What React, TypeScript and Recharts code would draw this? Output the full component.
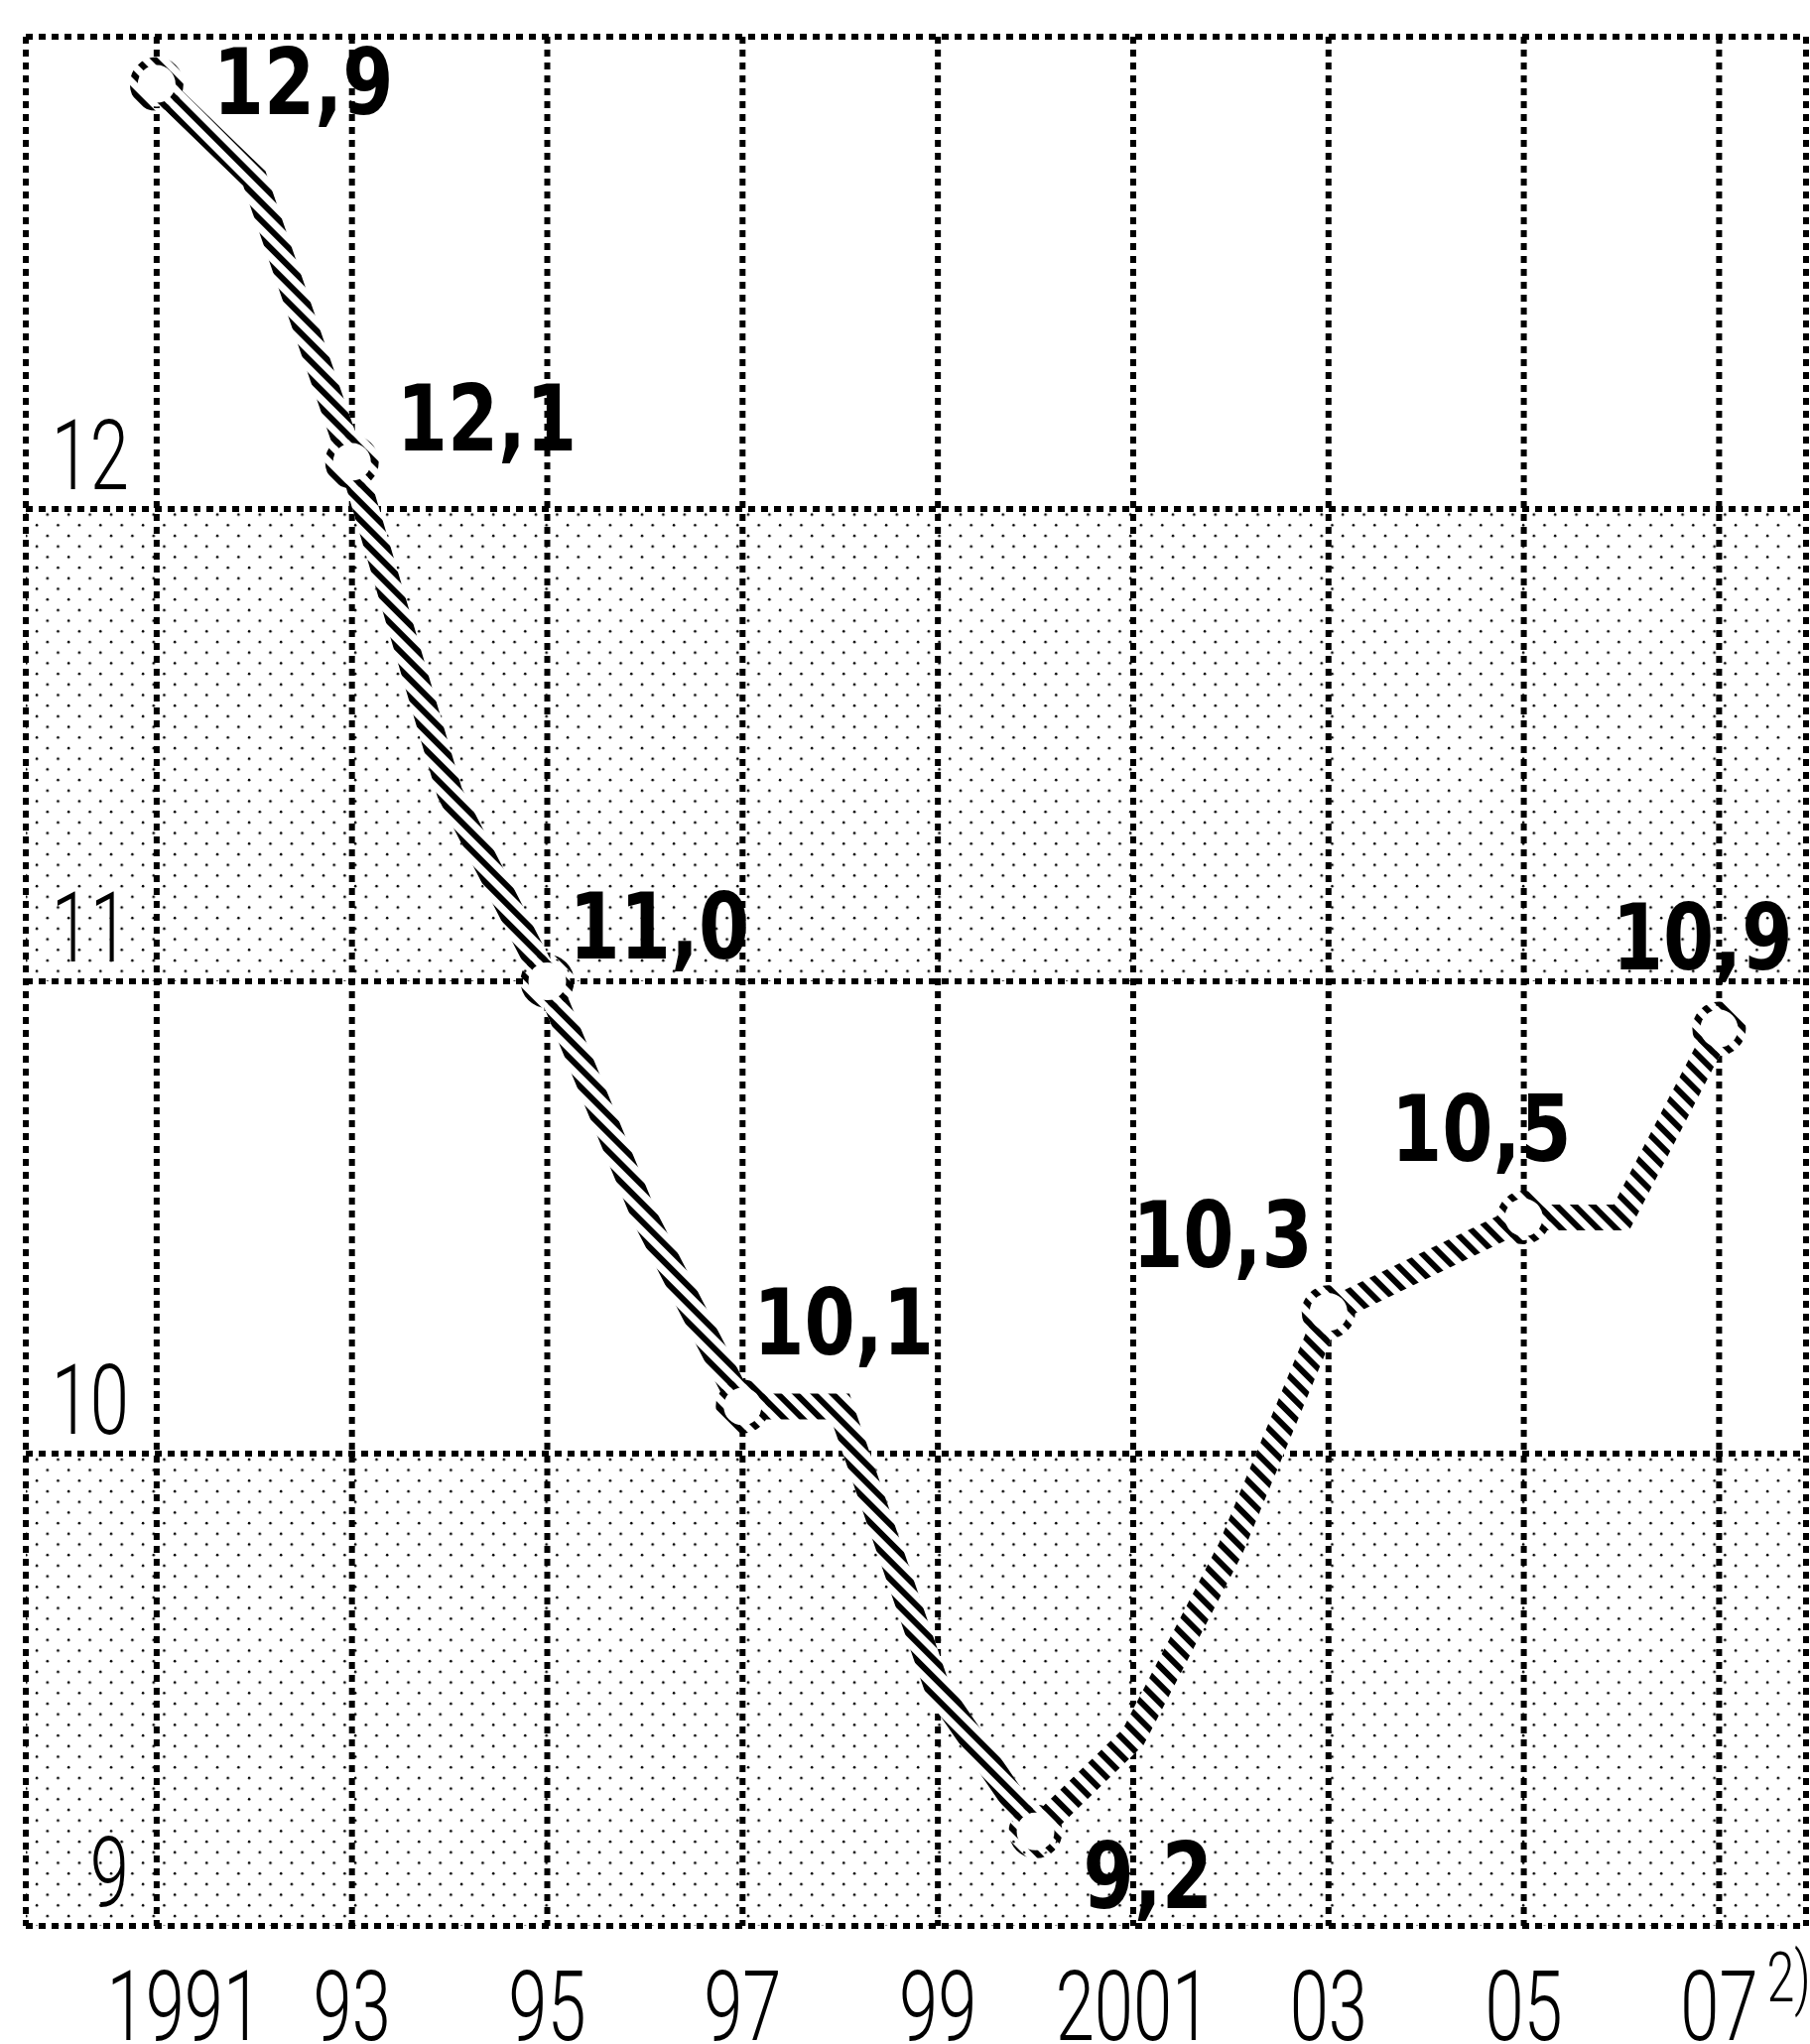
import React from 'react';
import { LineChart, Line, XAxis, YAxis, CartesianGrid, ReferenceArea } from 'recharts';

// ---- data ----
const years = [1991, 1992, 1993, 1994, 1995, 1996, 1997, 1998, 1999, 2000, 2001, 2002, 2003, 2004, 2005, 2006, 2007];
const values = [12.9, 12.7, 12.1, 11.4, 11.0, 10.5, 10.1, 10.1, 9.5, 9.2, 9.4, 9.8, 10.3, 10.4, 10.5, 10.5, 10.9];
const labeledYears = [1991, 1993, 1995, 1997, 2000, 2003, 2005, 2007];
const xTicks = [1991, 1993, 1995, 1997, 1999, 2001, 2003, 2005, 2007];
const xTickLabels = ['1991', '93', '95', '97', '99', '2001', '03', '05', '07'];
const yTicks = [9, 10, 11, 12, 13];
const yTickLabels = ['9', '10', '11', '12', ''];
const shadedBandsLow = [9, 11];
const shadedBandsHigh = [10, 12];

const data = years.map((year, i) => ({ year, value: values[i] }));

// ---- layout / style config ----
const W = 1824;
const H = 2060;
const X_DOMAIN = [1989.66, 2007.89];
const Y_DOMAIN = [9, 13];
const TICK_FONT = 'Roboto, "DejaVu Sans Condensed", sans-serif';
const LABEL_FONT = '"DejaVu Sans Condensed", Roboto, sans-serif';
const TICK_SCALE = 0.72;
const LABEL_SCALE = 0.88;

const LABEL_POS: Record<number, { dx: number; dy: number; anchor: 'start' | 'end' | 'middle' }> = {
  1991: { dx: 57, dy: 30, anchor: 'start' },
  1993: { dx: 45, dy: -11, anchor: 'start' },
  1995: { dx: 22, dy: -23, anchor: 'start' },
  1997: { dx: 11, dy: -52, anchor: 'start' },
  2000: { dx: 48, dy: 77, anchor: 'start' },
  2003: { dx: -16, dy: -45, anchor: 'end' },
  2005: { dx: 48, dy: -57, anchor: 'end' },
  2007: { dx: 74, dy: -60, anchor: 'end' },
};

const fmt = (v: number) => v.toFixed(1).replace('.', ',');

const XTick = (props: any) => {
  const { x, y, payload, index } = props;
  const label = xTickLabels[xTicks.indexOf(payload.value)] ?? '';
  const dx = index === 0 ? 28 : 0;
  const isLast = payload.value === xTicks[xTicks.length - 1];
  return (
    <g>
      <g transform={`translate(${x + dx},${y + 115}) scale(${TICK_SCALE},1)`}>
        <text x={0} y={0} textAnchor="middle" fontFamily={TICK_FONT} fontWeight={300} fontSize={98} fill="#000">
          {label}
        </text>
      </g>
      {isLast && (
        <g transform={`translate(${x + 48},${y + 76}) scale(${TICK_SCALE},1)`}>
          <text x={0} y={0} textAnchor="start" fontFamily={TICK_FONT} fontWeight={300} fontSize={70} fill="#000">
            2)
          </text>
        </g>
      )}
    </g>
  );
};

const YTick = (props: any) => {
  const { x, y, payload } = props;
  const label = yTickLabels[yTicks.indexOf(payload.value)] ?? '';
  if (!label) return <g />;
  return (
    <g transform={`translate(${x + 104},${y - 20}) scale(${TICK_SCALE},1)`}>
      <text x={0} y={0} textAnchor="end" fontFamily={TICK_FONT} fontWeight={300} fontSize={98} fill="#000">
        {label}
      </text>
    </g>
  );
};

const Marker = (props: any) => {
  const { cx, cy, payload } = props;
  if (!labeledYears.includes(payload.year)) return <g key={`m-${payload.year}`} />;
  return (
    <circle key={`m-${payload.year}`} cx={cx} cy={cy} r={23} fill="#fff" stroke="url(#hatch)" strokeWidth={8} />
  );
};

const PointLabel = (props: any) => {
  const { x, y, value, index } = props;
  const year = years[index];
  if (!labeledYears.includes(year)) return null;
  const p = LABEL_POS[year];
  return (
    <g transform={`translate(${x + p.dx},${y + p.dy}) scale(${LABEL_SCALE},1)`}>
      <text x={0} y={0} textAnchor={p.anchor} fontFamily={LABEL_FONT} fontWeight="bold" fontSize={93} fill="#000">
        {fmt(value)}
      </text>
    </g>
  );
};

export default function App() {
  return (
    <div style={{ position: 'absolute', left: 0, top: 0, width: W, height: H, background: '#fff' }}>
      <LineChart width={W} height={H} data={data} margin={{ top: 37, right: 4, bottom: 0, left: 25 }}>
        <defs>
          <pattern id="hatch" patternUnits="userSpaceOnUse" width="13" height="13" patternTransform="rotate(-45)">
            <rect x="0" y="0" width="6" height="13" fill="#000" />
          </pattern>
          <pattern id="dots" patternUnits="userSpaceOnUse" width="21.4" height="21.4">
            <circle cx="5" cy="5" r="1.3" fill="#000" />
            <circle cx="15.7" cy="15.7" r="1.3" fill="#000" />
          </pattern>
        </defs>
        {shadedBandsLow.map((lo, i) => (
          <ReferenceArea key={`band-${i}`} y1={lo} y2={shadedBandsHigh[i]} fill="url(#dots)" fillOpacity={1} stroke="none" ifOverflow="hidden" />
        ))}
        <CartesianGrid stroke="#000" strokeWidth={6} strokeDasharray="7 6" />
        <XAxis
          dataKey="year"
          type="number"
          domain={X_DOMAIN}
          ticks={xTicks}
          axisLine={false}
          tickLine={false}
          tickSize={0}
          tickMargin={0}
          height={119}
          tick={<XTick />}
          interval={0}
          allowDataOverflow
        />
        <YAxis
          type="number"
          domain={Y_DOMAIN}
          ticks={yTicks}
          axisLine={false}
          tickLine={false}
          tickSize={0}
          tickMargin={0}
          width={1}
          tick={<YTick />}
          interval={0}
          allowDataOverflow
        />
        <Line dataKey="value" stroke="#fff" strokeWidth={26} dot={false} activeDot={false} isAnimationActive={false} strokeLinejoin="miter" />
        <Line
          dataKey="value"
          stroke="url(#hatch)"
          strokeWidth={26}
          strokeLinejoin="miter"
          dot={<Marker />}
          activeDot={false}
          label={<PointLabel />}
          isAnimationActive={false}
        />
      </LineChart>
    </div>
  );
}
